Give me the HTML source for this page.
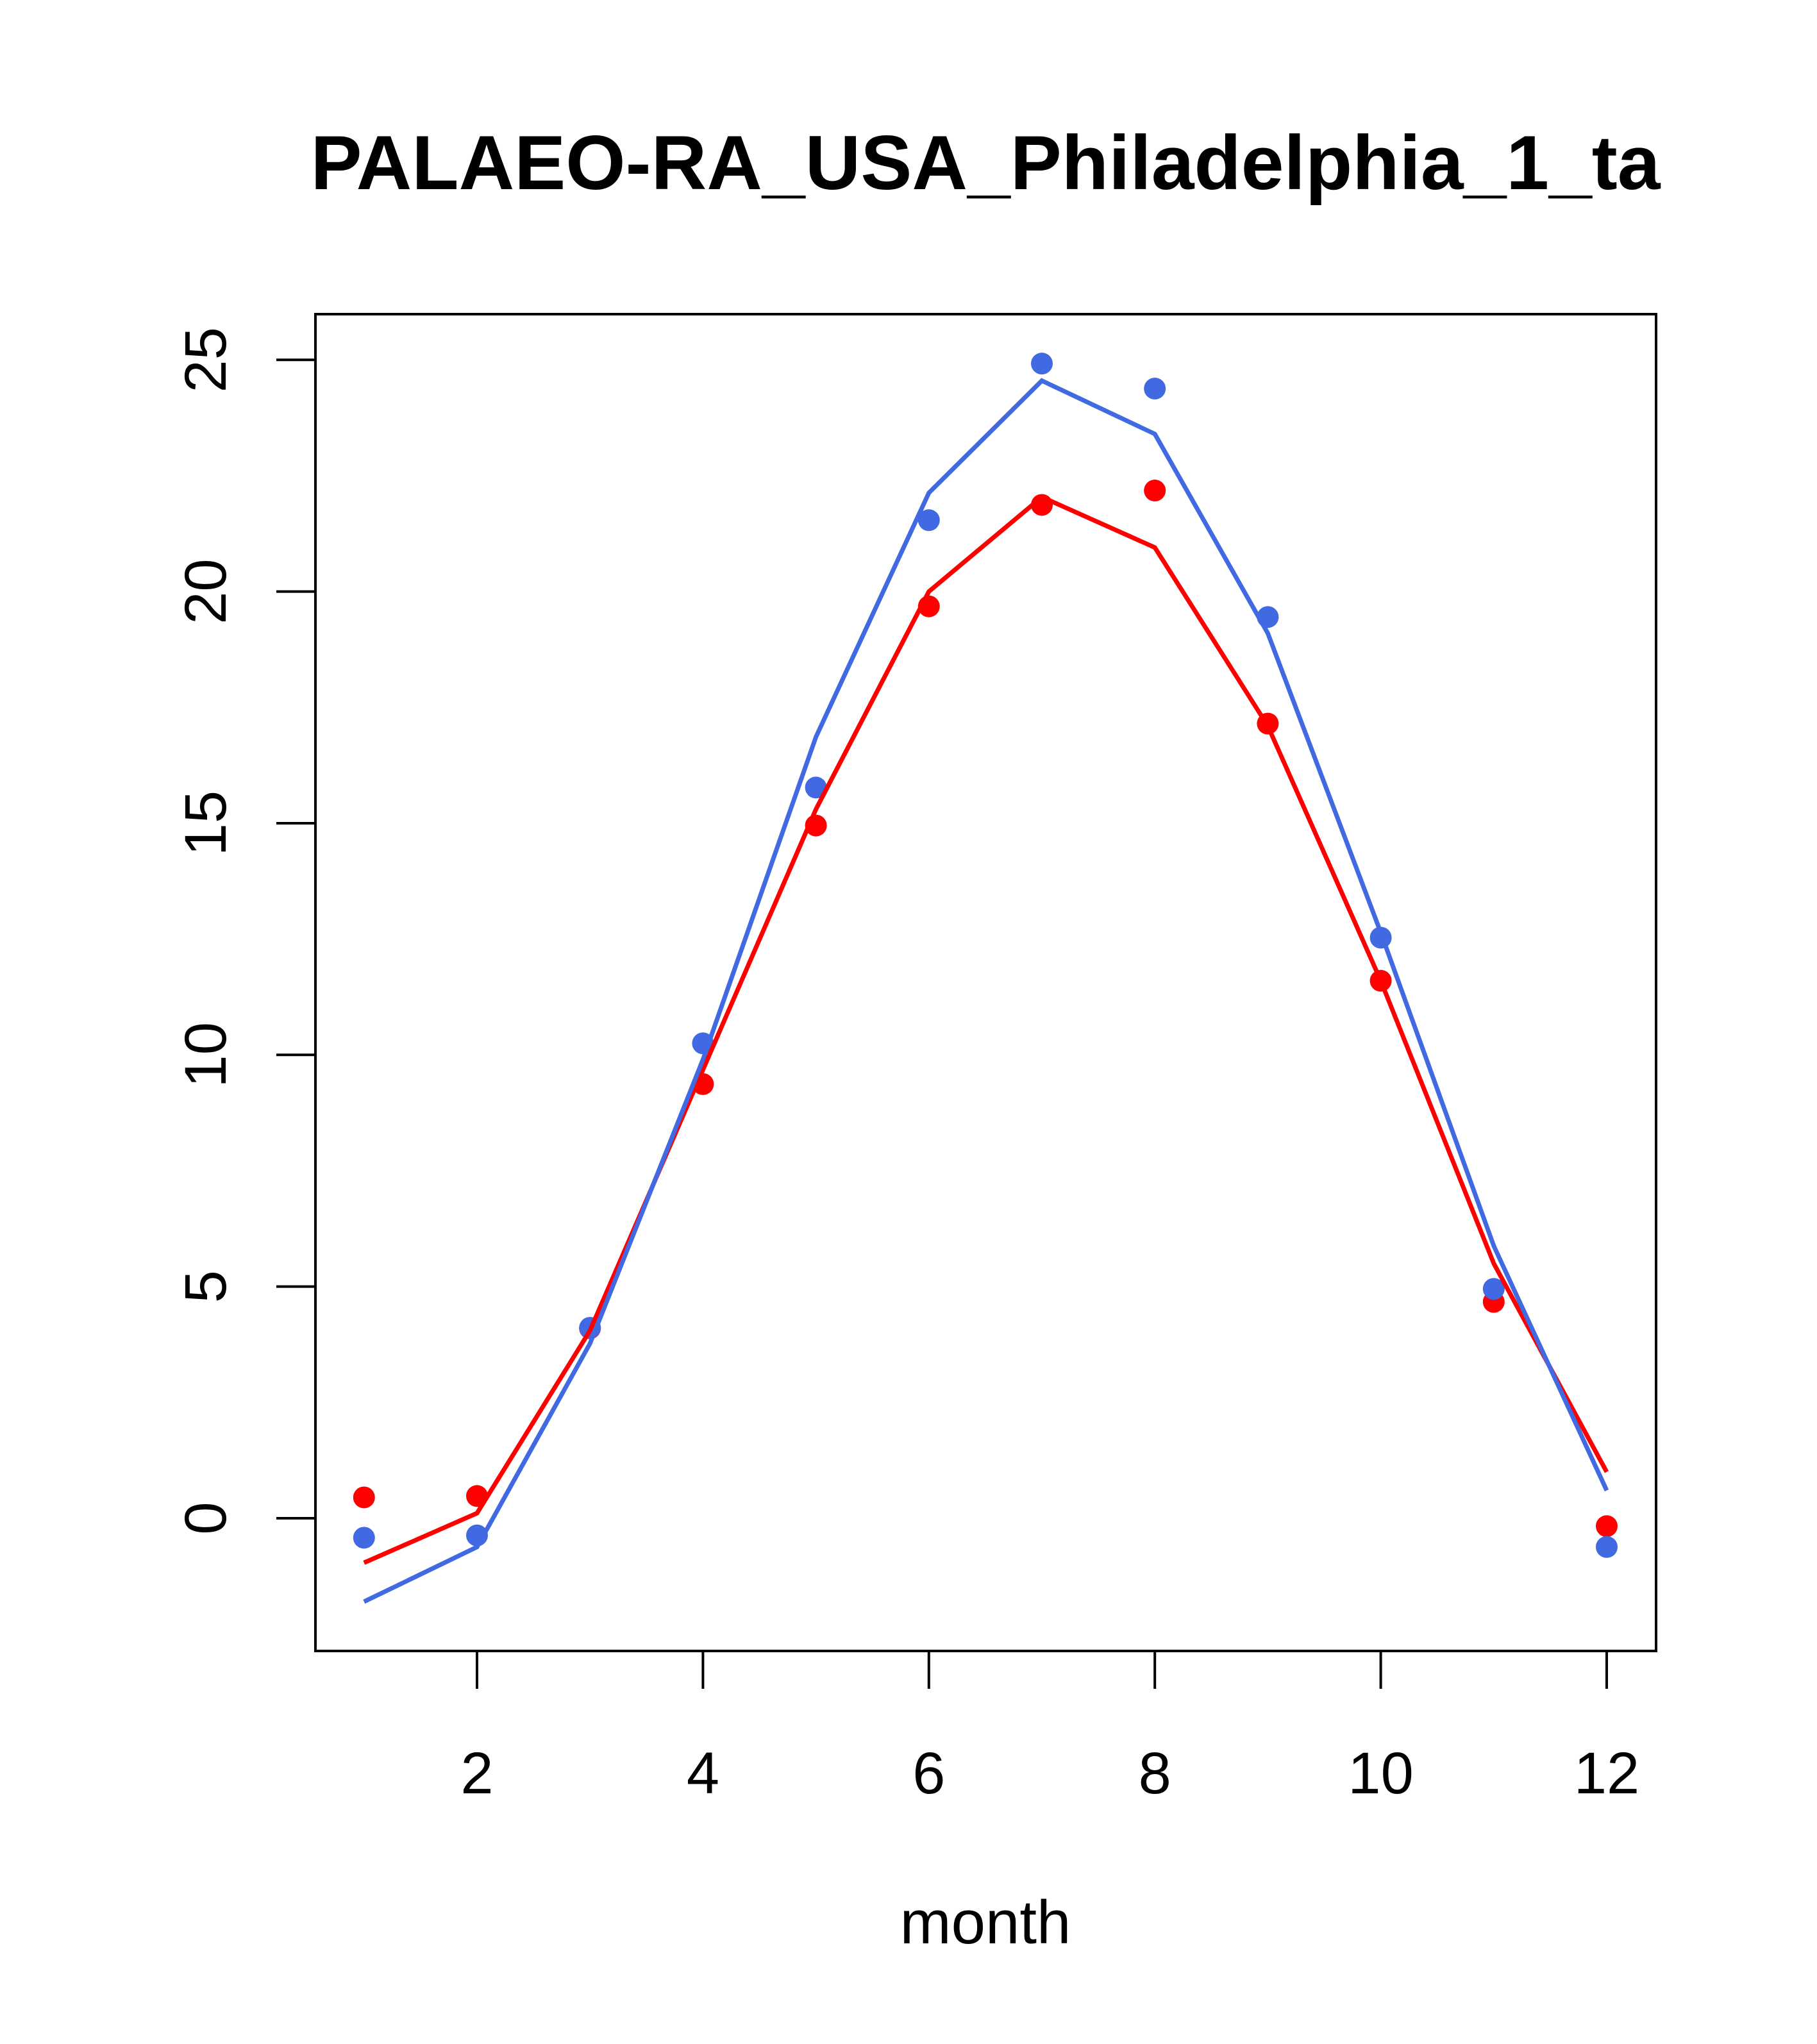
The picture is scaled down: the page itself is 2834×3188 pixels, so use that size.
<!DOCTYPE html>
<html><head><meta charset="utf-8"><style>
html,body{margin:0;padding:0;background:#fff;}
svg{display:block;}
text{font-family:"Liberation Sans",Arial,sans-serif;fill:#000;}
</style></head><body>
<svg id="chart" width="2834" height="3188" viewBox="0 0 2834 3188" xmlns="http://www.w3.org/2000/svg">
<text x="1537" y="295" font-size="120" font-weight="bold" text-anchor="middle">PALAEO-RA_USA_Philadelphia_1_ta</text>
<rect x="492" y="490" width="2091" height="2085" fill="none" stroke="#000" stroke-width="4"/>
<text x="1537" y="3031" font-size="96" text-anchor="middle">month</text>
<g id="xaxis"></g>
<g id="yaxis"></g>
<g id="series"></g>
</svg>
<script>
const months = [1,2,3,4,5,6,7,8,9,10,11,12];
const xTicks = [2,4,6,8,10,12];
const yTicks = [0,5,10,15,20,25];
const redPoints = [0.45,0.48,4.1,9.37,14.95,19.68,21.87,22.18,17.15,11.6,4.67,-0.17];
const bluePoints = [-0.42,-0.37,4.11,10.25,15.77,21.54,24.92,24.38,19.45,12.53,4.95,-0.62];
const redLine = [-0.96,0.11,4.05,9.68,15.3,20.0,22.04,20.95,17.1,11.6,5.5,1.0];
const blueLine = [-1.8,-0.62,3.77,9.9,16.86,22.13,24.55,23.4,19.1,12.64,5.88,0.6];

const NS = "http://www.w3.org/2000/svg";
function xs(m){ return 744 + (m-2)*176.2; }
function ys(v){ return 2368 - v*72.27; }
function mk(tag, attrs, parent){
  const e = document.createElementNS(NS, tag);
  for (const k in attrs) e.setAttribute(k, attrs[k]);
  parent.appendChild(e);
  return e;
}
const xg = document.getElementById('xaxis');
const yg = document.getElementById('yaxis');
const sg = document.getElementById('series');

xTicks.forEach(t=>{
  const l = mk('line',{x1:xs(t),x2:xs(t),y1:2575,y2:2634,stroke:'#000','stroke-width':4},xg);
  
  
  const tx = mk('text',{x:xs(t),y:2797,'font-size':92,'text-anchor':'middle'},xg);
  tx.textContent = t;
  
  
});
yTicks.forEach(t=>{
  const l = mk('line',{x1:431,x2:492,y1:ys(t),y2:ys(t),stroke:'#000','stroke-width':4},yg);
  
  
  const tx = mk('text',{x:352,y:ys(t),'font-size':92,'text-anchor':'middle',transform:`rotate(-90 352 ${ys(t)})`},yg);
  tx.textContent = t;
  
  
});

function drawLine(vals, color, name){
  const p = mk('polyline',{points:vals.map((v,i)=>xs(months[i])+','+ys(v)).join(' '),fill:'none',stroke:color,'stroke-width':7},sg);
  
  
}
function drawPts(vals, color, name){
  vals.forEach((v,i)=>{
    const c = mk('circle',{cx:xs(months[i]),cy:ys(v),r:17,fill:color},sg);
    
    
  });
}
drawPts(redPoints,'#ff0000','red-point');
drawPts(bluePoints,'#4169e1','blue-point');
drawLine(redLine,'#ff0000','red-line');
drawLine(blueLine,'#4169e1','blue-line');
</script>
</body></html>
